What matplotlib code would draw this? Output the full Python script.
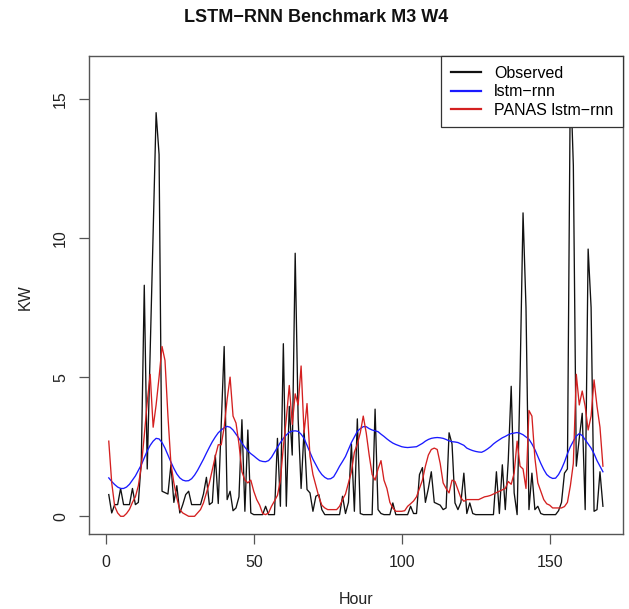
import matplotlib
matplotlib.use("Agg")
import matplotlib.pyplot as plt
import numpy as np

plt.rcParams['font.family'] = ['Liberation Sans', 'DejaVu Sans']

hours = np.arange(1, 169)

observed = [0.78, 0.12, 0.42, 0.42, 1.0, 0.42, 0.42, 0.42, 1.0, 0.42,
            0.5, 2.0, 8.3, 1.7, 5.9, 10.2, 14.5, 13.0, 0.9, 0.85,
            0.8, 1.85, 0.5, 1.1, 0.12, 0.42, 0.78, 0.9, 0.42, 0.42,
            0.42, 0.42, 0.8, 1.4, 0.42, 0.5, 2.2, 0.46, 3.3, 6.1,
            0.6, 0.9, 0.2, 0.3, 0.7, 3.47, 0.18, 3.1, 0.12, 0.06,
            0.06, 0.06, 0.06, 0.36, 0.06, 0.06, 0.06, 2.8, 0.36, 6.2,
            0.36, 3.95, 2.2, 9.45, 3.5, 1.0, 3.1, 0.96, 0.84, 0.18,
            0.72, 0.78, 0.24, 0.06, 0.06, 0.06, 0.06, 0.06, 0.06, 0.72,
            0.1, 0.5, 2.6, 0.18, 3.5, 0.1, 0.06, 0.06, 0.06, 0.06,
            3.85, 0.24, 0.1, 0.06, 0.06, 0.06, 0.48, 0.06, 0.06, 0.06,
            0.06, 0.06, 0.36, 0.1, 0.1, 1.5, 1.75, 0.5, 1.0, 1.6,
            0.5, 0.45, 0.4, 0.24, 0.3, 3.0, 2.6, 0.48, 0.24, 0.5,
            1.55, 0.1, 0.48, 0.1, 0.06, 0.06, 0.06, 0.06, 0.06, 0.06,
            0.06, 1.6, 0.1, 1.85, 0.24, 2.0, 4.67, 0.84, 0.06, 5.0,
            10.9, 7.5, 0.24, 1.55, 0.24, 0.36, 0.1, 0.06, 0.06, 0.06,
            0.06, 0.06, 0.2, 0.5, 1.55, 1.7, 15.9, 12.6, 1.8, 2.8,
            3.7, 0.24, 9.6, 7.5, 0.18, 0.24, 1.6, 0.36]

lstm = [1.38, 1.25, 1.14, 1.05, 1.0, 1.0, 1.05, 1.15, 1.3, 1.45,
        1.65, 1.85, 2.1, 2.35, 2.55, 2.7, 2.8, 2.78, 2.65, 2.45,
        2.2, 1.95, 1.72, 1.52, 1.38, 1.3, 1.27, 1.28, 1.35, 1.48,
        1.65, 1.85, 2.05, 2.27, 2.48, 2.68, 2.85, 3.0, 3.1, 3.18,
        3.23, 3.2, 3.1, 2.95, 2.8, 2.63, 2.48, 2.35, 2.25, 2.17,
        2.08, 2.0, 1.97, 1.96, 2.0, 2.12, 2.3, 2.48, 2.65, 2.8,
        2.92, 3.02, 3.06, 3.07, 3.05, 2.95, 2.8, 2.55, 2.3, 2.05,
        1.85, 1.65, 1.5, 1.4, 1.34, 1.35, 1.42, 1.6, 1.8, 1.97,
        2.15, 2.4, 2.65, 2.85, 3.05, 3.15, 3.22, 3.22, 3.15, 3.1,
        3.07, 3.04, 2.95, 2.87, 2.78, 2.7, 2.63, 2.58, 2.54, 2.5,
        2.48, 2.47, 2.48, 2.49, 2.5, 2.56, 2.62, 2.7, 2.76, 2.8,
        2.82, 2.83, 2.82, 2.8, 2.76, 2.71, 2.68, 2.67, 2.65, 2.6,
        2.55, 2.45, 2.4, 2.36, 2.33, 2.31, 2.3, 2.35, 2.42, 2.5,
        2.6, 2.68, 2.75, 2.82, 2.87, 2.93, 2.97, 2.99, 3.01, 2.98,
        2.93, 2.85, 2.77, 2.6, 2.4, 2.15, 1.9, 1.68, 1.5, 1.41,
        1.36, 1.37, 1.5, 1.7, 1.95, 2.25, 2.5, 2.7, 2.88, 2.97,
        2.9, 2.75, 2.6, 2.45, 2.25, 2.0, 1.8, 1.6]

panas = [2.7, 1.2, 0.36, 0.12, 0.0, 0.0, 0.1, 0.25, 0.5, 0.7,
         1.1, 1.8, 2.9, 4.1, 5.1, 3.2, 4.0, 5.0, 6.1, 5.6,
         3.6, 1.9, 1.2, 0.66, 0.24, 0.12, 0.06, 0.0, 0.0, 0.0,
         0.12, 0.24, 0.48, 0.84, 1.2, 1.67, 2.15, 2.57, 2.57, 3.2,
         4.2, 5.0, 3.6, 3.35, 2.6, 1.6, 1.3, 1.2, 1.3, 0.9,
         0.6, 0.4, 0.1, 0.06, 0.12, 0.36, 0.55, 0.75, 1.3, 2.5,
         3.5, 4.7, 3.3, 4.4, 4.0, 5.4, 3.0, 4.05, 2.15, 1.5,
         1.1, 0.7, 0.4, 0.3, 0.24, 0.24, 0.24, 0.24, 0.36, 0.6,
         0.8, 1.2, 1.6, 2.3, 2.6, 3.0, 3.6, 3.0, 2.2, 1.5,
         1.3, 1.7, 2.0, 1.3, 1.0, 0.5, 0.3, 0.18, 0.18, 0.18,
         0.2, 0.36, 0.45, 0.55, 0.7, 1.0, 1.3, 1.8, 2.2, 2.4,
         2.45, 2.4, 1.9, 1.2, 1.0, 0.84, 1.3, 1.25, 0.96, 0.66,
         0.54, 0.6, 0.6, 0.6, 0.6, 0.6, 0.65, 0.7, 0.72, 0.75,
         0.8, 0.85, 0.9, 0.95, 1.0, 1.25, 1.15, 1.55, 2.7, 1.8,
         1.7, 1.0, 3.8, 3.6, 2.1, 1.2, 0.9, 0.6, 0.45, 0.4,
         0.3, 0.3, 0.3, 0.3, 0.35, 0.5, 1.1, 1.9, 5.1, 4.0,
         4.5, 3.95, 3.1, 3.6, 4.9, 3.95, 3.2, 1.8]

fig = plt.figure(figsize=(6.29, 6.09), dpi=100)
ax = fig.add_axes([89 / 629, 1 - 534 / 609, (622.7 - 89) / 629, (534 - 56) / 609])

ax.plot(hours, observed, color='#111111', lw=0.95, label='Observed')
ax.plot(hours, lstm, color='#1a1aff', lw=0.95, label='lstm\u2212rnn')
ax.plot(hours, panas, color='#d42020', lw=0.95, label='PANAS lstm\u2212rnn')

# R style 4% padding on both axes
xr = hours.max() - hours.min()
ax.set_xlim(hours.min() - 0.04 * xr, hours.max() + 0.04 * xr)
yr = max(observed) - 0
ax.set_ylim(-0.04 * yr, max(observed) + 0.04 * yr)

ax.set_xticks([0, 50, 100, 150])
ax.set_yticks([0, 5, 10, 15])
ax.tick_params(length=7, width=0.9, color='#555555', labelsize=11.5, pad=8, labelcolor='#222222')
for lab in ax.get_yticklabels():
    lab.set_rotation(90)
    lab.set_va('center')
for sp in ax.spines.values():
    sp.set_color('#555555')
    sp.set_linewidth(1.0)

fig.text(316 / 629, 1 - 18 / 609, 'LSTM\u2212RNN Benchmark M3 W4', ha='center', va='center',
         fontsize=13, fontweight='bold', color='#111111')
fig.text(356 / 629, 1 - 599 / 609, 'Hour', ha='center', va='center', fontsize=11.5, color='#222222')
fig.text(25 / 629, 1 - 297 / 609, 'KW', ha='center', va='center', rotation=90, fontsize=11.5, color='#222222')

leg = ax.legend(loc='upper right', borderaxespad=0, fancybox=False, framealpha=1,
                edgecolor='#333333', fontsize=11.5, handlelength=1.9, handletextpad=0.8,
                labelspacing=0.22, borderpad=0.6)
leg.get_frame().set_linewidth(0.9)
for line in leg.get_lines():
    line.set_linewidth(1.6)

plt.savefig('out.png', dpi=100)
